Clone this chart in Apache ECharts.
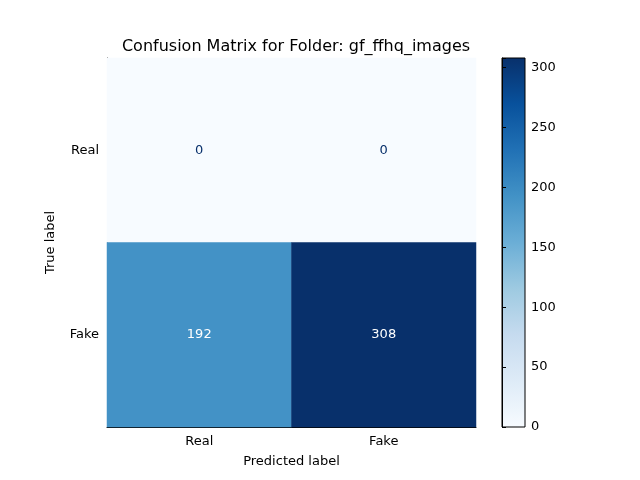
<!DOCTYPE html>
<html>
<head>
<meta charset="utf-8">
<script src="https://cdn.jsdelivr.net/npm/echarts@6/dist/echarts.min.js"></script>
<style>html,body{margin:0;padding:0;background:#fff}#chart{width:640px;height:480px}</style>
</head>
<body>
<div id="chart"></div>
<script>
// 标签与矩阵数据
const classNames = ['Real', 'Fake'];
const trueRow0 = [0, 0];
const trueRow1 = [192, 308];
const colorbarTicks = [0, 50, 100, 150, 200, 250, 300];
const maxValue = 308;

const blues = ['#f7fbff', '#deebf7', '#c6dbef', '#9ecae1', '#6baed6', '#4292c6', '#2171b5', '#08519c', '#08306b'];
const font = 'DejaVu Sans';

const cells = [];
[trueRow0, trueRow1].forEach((row, yi) => {
    row.forEach((v, xi) => {
        cells.push({
            value: [xi, yi, v],
            label: { color: v > maxValue / 2 ? '#ffffff' : '#08306b' }
        });
    });
});

const chart = echarts.init(document.getElementById('chart'));
chart.setOption({
    animation: false,
    textStyle: { fontFamily: font },
    title: {
        text: 'Confusion Matrix for Folder: gf_ffhq_images',
        left: 291, top: 34, textAlign: 'center',
        textStyle: { fontFamily: font, fontSize: 16, fontWeight: 'normal', color: '#000' }
    },
    grid: [
        { left: 107, top: 58, width: 369, height: 369 },
        { left: 502, top: 58, width: 23, height: 369 }
    ],
    xAxis: [
        {
            type: 'category', gridIndex: 0, data: classNames,
            name: 'Predicted label', nameLocation: 'middle', nameGap: 28,
            nameTextStyle: { fontFamily: font, fontSize: 13, color: '#000' },
            axisLine: { lineStyle: { color: '#000' } },
            axisTick: { alignWithLabel: true, length: 4, lineStyle: { color: '#000' } },
            axisLabel: { fontFamily: font, fontSize: 13, color: '#000' },
            splitLine: { show: false }
        },
        {
            type: 'value', gridIndex: 1, show: false, min: 0, max: 1
        }
    ],
    yAxis: [
        {
            type: 'category', gridIndex: 0, data: classNames, inverse: true,
            name: 'True label', nameLocation: 'middle', nameGap: 50,
            nameTextStyle: { fontFamily: font, fontSize: 13, color: '#000' },
            axisLine: { lineStyle: { color: '#000' } },
            axisTick: { alignWithLabel: true, length: 4, lineStyle: { color: '#000' } },
            axisLabel: { fontFamily: font, fontSize: 13, color: '#000' },
            splitLine: { show: false }
        },
        {
            type: 'value', gridIndex: 1, position: 'right', min: 0, max: maxValue, interval: 50,
            axisLine: { show: true, lineStyle: { color: '#000' } },
            axisTick: { show: true, length: 4, lineStyle: { color: '#000' } },
            axisLabel: { fontFamily: font, fontSize: 13, color: '#000', margin: 6,
                formatter: v => colorbarTicks.includes(v) ? String(v) : '' },
            splitLine: { show: false }
        }
    ],
    visualMap: {
        show: false, min: 0, max: maxValue, seriesIndex: 0,
        inRange: { color: blues }
    },
    graphic: [{
        type: 'rect', z: 0,
        shape: { x: 502, y: 58, width: 23, height: 369 },
        style: {
            fill: new echarts.graphic.LinearGradient(0, 1, 0, 0,
                blues.map((c, i) => ({ offset: i / (blues.length - 1), color: c }))),
            stroke: '#000', lineWidth: 1
        }
    }],
    series: [
        {
            type: 'heatmap', xAxisIndex: 0, yAxisIndex: 0, data: cells,
            label: { show: true, fontFamily: font, fontSize: 13, formatter: p => p.value[2] }
        },
        { type: 'line', xAxisIndex: 1, yAxisIndex: 1, data: [] }
    ]
});
</script>
</body>
</html>
